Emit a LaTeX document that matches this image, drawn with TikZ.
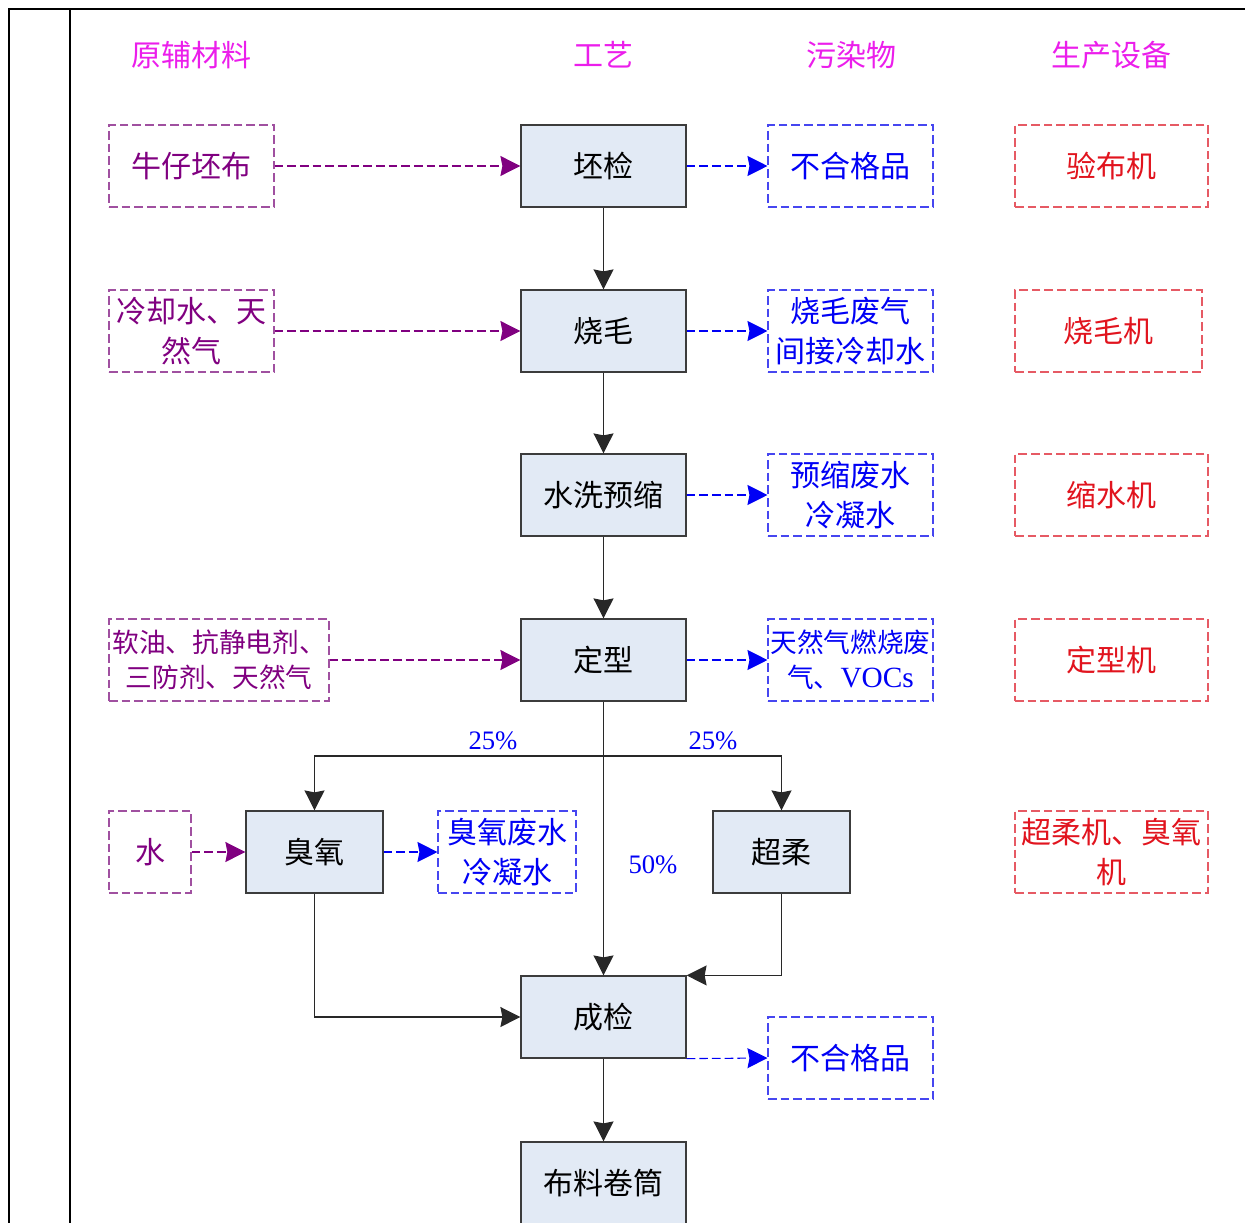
\documentclass[tikz,border=0pt]{standalone}
\usepackage{fontspec}
\setmainfont{Liberation Serif}
\newfontfamily\cjk{Noto Sans CJK SC}
\usetikzlibrary{arrows.meta}
\definecolor{hdr}{RGB}{235,30,235}
\definecolor{matc}{RGB}{128,0,128}
\definecolor{matb}{RGB}{160,80,160}
\definecolor{polc}{RGB}{0,0,245}
\definecolor{polb}{RGB}{70,70,240}
\definecolor{eqc}{RGB}{225,20,30}
\definecolor{eqb}{RGB}{230,90,100}
\definecolor{procfill}{RGB}{226,234,245}
\definecolor{procline}{RGB}{60,60,60}
\definecolor{conn}{RGB}{40,40,40}
\tikzset{
  base/.style={rectangle, minimum height=61.5pt, inner sep=1pt, align=center,
    font=\cjk\fontsize{22.5}{30}\selectfont},
  smallfont/.style={font=\cjk\fontsize{20}{26.5}\selectfont},
  proc/.style={base, fill=procfill, draw=procline, line width=0.9pt, minimum width=123.75pt, text=black},
  matbox/.style={base, draw=matb, line width=0.8pt, dash pattern=on 6.5pt off 3pt, text=matc, minimum width=123.75pt},
  polbox/.style={base, draw=polb, line width=0.8pt, dash pattern=on 6.5pt off 3pt, text=polc, minimum width=123.75pt},
  eqbox/.style={base, draw=eqb, line width=0.8pt, dash pattern=on 6.5pt off 3pt, text=eqc, minimum width=144.75pt},
  hdrtext/.style={font=\cjk\fontsize{22.5}{30}\selectfont, text=hdr},
  pct/.style={font=\fontsize{20}{22}\selectfont, text=polc},
  flow/.style={draw=conn, line width=0.8pt, -{Stealth[length=15pt,width=15pt,inset=1.5pt]}},
  matflow/.style={draw=matc, line width=0.8pt, dash pattern=on 6.5pt off 3pt, -{Stealth[length=15pt,width=15pt,inset=1.5pt,fill=matc]}},
  polflow/.style={draw=polc, line width=0.8pt, dash pattern=on 6.5pt off 3pt, -{Stealth[length=15pt,width=15pt,inset=1.5pt,fill=polc]}},
  frameline/.style={draw=black, line width=2.2pt},
  innerline/.style={draw=black, line width=1.2pt}
}
\begin{document}
\begin{tikzpicture}[x=0.75pt,y=-0.75pt]
\useasboundingbox (0,0) rectangle (1245,1223);
\clip (0,0) rectangle (1245,1223);
% frame
\draw[frameline] (9,1240) -- (9,9) -- (1260,9);
\draw[innerline] (70,9) -- (70,1240);
% headers
\node[hdrtext] (h1) at (191,55) {原辅材料};
\node[hdrtext] (h2) at (603,55) {工艺};
\node[hdrtext] (h3) at (851,55) {污染物};
\node[hdrtext] (h4) at (1111,55) {生产设备};
% process nodes
\node[proc] (p1) at (603.5,166) {坯检};
\node[proc] (p2) at (603.5,331) {烧毛};
\node[proc] (p3) at (603.5,495) {水洗预缩};
\node[proc] (p4) at (603.5,660) {定型};
\node[proc, minimum width=102.75pt] (oz) at (314.5,852) {臭氧};
\node[proc, minimum width=102.75pt] (cr) at (781.5,852) {超柔};
\node[proc] (p6) at (603.5,1017) {成检};
\node[proc] (p7) at (603.5,1183) {布料卷筒};
% materials
\node[matbox] (m1) at (191.5,166) {牛仔坯布};
\node[matbox] (m2) at (191.5,331) {冷却水、天\\然气};
\node[matbox, smallfont, minimum width=165pt] (m4) at (219,660) {软油、抗静电剂、\\三防剂、天然气};
\node[matbox, minimum width=61.5pt] (m5) at (150,852) {水};
% pollutants
\node[polbox] (w1) at (850.5,166) {不合格品};
\node[polbox] (w2) at (850.5,331) {烧毛废气\\间接冷却水};
\node[polbox] (w3) at (850.5,495) {预缩废水\\冷凝水};
\node[polbox, smallfont] (w4) at (850.5,660) {天然气燃烧废\\气、{\fontsize{22}{26.5}\selectfont\rmfamily VOCs}};
\node[polbox, minimum width=103.5pt] (w5) at (507,852) {臭氧废水\\冷凝水};
\node[polbox] (w6) at (850.5,1058) {不合格品};
% equipment
\node[eqbox] (e1) at (1111.5,166) {验布机};
\node[eqbox, minimum width=140.25pt] (e2) at (1108.5,331) {烧毛机};
\node[eqbox] (e3) at (1111.5,495) {缩水机};
\node[eqbox] (e4) at (1111.5,660) {定型机};
\node[eqbox] (e5) at (1111.5,852) {超柔机、臭氧\\机};
% material flows
\draw[matflow] (m1.east) -- (p1.west);
\draw[matflow] (m2.east) -- (p2.west);
\draw[matflow] (m4.east) -- (p4.west);
\draw[matflow] (m5.east) -- (oz.west);
% pollutant flows
\draw[polflow] (p1.east) -- (w1.west);
\draw[polflow] (p2.east) -- (w2.west);
\draw[polflow] (p3.east) -- (w3.west);
\draw[polflow] (p4.east) -- (w4.west);
\draw[polflow] (oz.east) -- (w5.west);
\draw[polflow] (p6.south east) -- (w6.west);
% main flows
\draw[flow] (p1.south) -- (p2.north);
\draw[flow] (p2.south) -- (p3.north);
\draw[flow] (p3.south) -- (p4.north);
\draw[flow] (p4.south) -- (p6.north);
\coordinate (br) at (603.5,756);
\draw[flow] (br) -| (oz.north);
\draw[flow] (br) -| (cr.north);
\draw[flow] (oz.south) |- (p6.west);
\draw[flow] (cr.south) |- (p6.north east);
\draw[flow] (p6.south) -- (p7.north);
% percentages
\node[pct] (l1) at (493,741) {25\%};
\node[pct] (l2) at (713,741) {25\%};
\node[pct] (l3) at (653,865) {50\%};
\end{tikzpicture}
\end{document}
